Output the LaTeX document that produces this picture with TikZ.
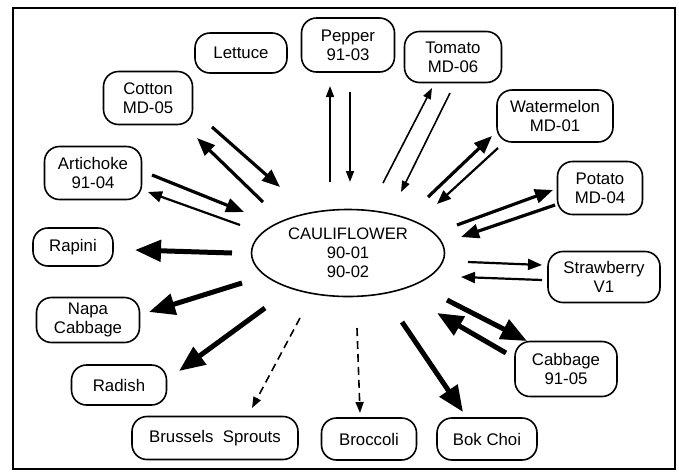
\documentclass[tikz,border=0pt]{standalone}
\usepackage{fontspec}
\setmainfont{Liberation Sans}
\usetikzlibrary{arrows.meta,shapes.geometric}
\tikzset{
  crop/.style    ={draw, rounded corners=15pt, inner sep=0pt, align=center,
                   line width=1.6pt, font=\fontsize{16.8}{19}\selectfont},
  hub/.style     ={draw, ellipse, inner sep=0pt, align=center,
                   minimum width=193pt, minimum height=87pt,
                   line width=1.6pt, font=\fontsize{16.6}{19}\selectfont},
  thinarr/.style ={-{Triangle[length=11pt, width=8pt]}, line width=1.6pt},
  lightarr/.style={-{Triangle[length=14pt, width=11pt]}, line width=2.2pt},
  medarr/.style  ={-{Triangle[length=18pt, width=14pt]}, line width=3.2pt},
  bigarr/.style  ={-{Triangle[length=26pt, width=21pt]}, line width=5pt},
  dasharr/.style ={-{Triangle[length=11pt, width=8pt]}, line width=1.6pt,
                   dash pattern=on 8pt off 5pt},
}
\begin{document}
\begin{tikzpicture}[x=1pt, y=-1pt]
  \useasboundingbox (0,0) rectangle (679,472);
  \draw[line width=1.8pt] (13,8) rectangle (675,469);
  % ---- the crops
  \node[hub] (cauli) at (348,253) {CAULIFLOWER\\90-01\\90-02};
  \node[crop, minimum width=92pt,  minimum height=40pt] (lettuce)    at (241,53)  {Lettuce};
  \node[crop, minimum width=93pt,  minimum height=54pt] (pepper)     at (348,45)  {Pepper\\91-03};
  \node[crop, minimum width=97pt,  minimum height=51pt] (tomato)     at (453,57)  {Tomato\\MD-06};
  \node[crop, minimum width=116pt, minimum height=52pt] (watermelon) at (555,116) {Watermelon\\MD-01};
  \node[crop, minimum width=85pt,  minimum height=53pt] (potato)     at (600,188) {Potato\\MD-04};
  \node[crop, minimum width=112pt, minimum height=51pt] (strawberry) at (604,277) {Strawberry\\V1};
  \node[crop, minimum width=102pt, minimum height=55pt] (cabbage)    at (566,369) {Cabbage\\91-05};
  \node[crop, minimum width=100pt, minimum height=42pt] (bokchoi)    at (487,439) {Bok Choi};
  \node[crop, minimum width=95pt,  minimum height=42pt] (broccoli)   at (369,439) {Broccoli};
  \node[crop, minimum width=166pt, minimum height=43pt] (brussels)   at (215,438) {Brussels\ \ Sprouts};
  \node[crop, minimum width=95pt,  minimum height=40pt] (radish)     at (119,385) {Radish};
  \node[crop, minimum width=103pt, minimum height=45pt] (napa)       at (88,320)  {Napa\\Cabbage};
  \node[crop, minimum width=80pt,  minimum height=38pt] (rapini)     at (73,247)  {Rapini};
  \node[crop, minimum width=97pt,  minimum height=53pt] (artichoke)  at (93,173)  {Artichoke\\91-04};
  \node[crop, minimum width=89pt,  minimum height=53pt] (cotton)     at (148,98)  {Cotton\\MD-05};
  % ---- arrow ends, free of the boxes
  \coordinate (pep-a) at (330,182); \coordinate (pep-b) at (330,86);
  \coordinate (pep-c) at (350,92);  \coordinate (pep-d) at (350,182);
  \coordinate (tom-a) at (383,183); \coordinate (tom-b) at (432,88);
  \coordinate (tom-c) at (450,93);  \coordinate (tom-d) at (401,192);
  \coordinate (wat-a) at (428,197); \coordinate (wat-b) at (492,136);
  \coordinate (wat-c) at (498,148); \coordinate (wat-d) at (437,204);
  \coordinate (pot-a) at (457,225); \coordinate (pot-b) at (553,190);
  \coordinate (pot-c) at (555,205); \coordinate (pot-d) at (461,237);
  \coordinate (str-a) at (468,262); \coordinate (str-b) at (542,265);
  \coordinate (str-c) at (542,280); \coordinate (str-d) at (461,277);
  \coordinate (cab-a) at (447,300); \coordinate (cab-b) at (527,341);
  \coordinate (cab-c) at (506,353); \coordinate (cab-d) at (437,313);
  \coordinate (bok-a) at (402,322); \coordinate (bok-b) at (463,412);
  \coordinate (bro-a) at (357,328); \coordinate (bro-b) at (360,413);
  \coordinate (bru-a) at (300,318); \coordinate (bru-b) at (252,408);
  \coordinate (rad-a) at (265,308); \coordinate (rad-b) at (179,371);
  \coordinate (nap-a) at (242,283); \coordinate (nap-b) at (149,312);
  \coordinate (rap-a) at (232,253); \coordinate (rap-b) at (135,250);
  \coordinate (art-a) at (152,175); \coordinate (art-b) at (244,212);
  \coordinate (art-c) at (240,225); \coordinate (art-d) at (148,192);
  \coordinate (cot-a) at (212,127); \coordinate (cot-b) at (280,187);
  \coordinate (cot-c) at (263,202); \coordinate (cot-d) at (197,138);
  % ---- crosses
  \draw[thinarr]  (pep-a) -- (pep-b);
  \draw[thinarr]  (pep-c) -- (pep-d);
  \draw[thinarr]  (tom-a) -- (tom-b);
  \draw[thinarr]  (tom-c) -- (tom-d);
  \draw[medarr]   (wat-a) -- (wat-b);
  \draw[lightarr] (wat-c) -- (wat-d);
  \draw[medarr]   (pot-a) -- (pot-b);
  \draw[medarr]   (pot-c) -- (pot-d);
  \draw[lightarr] (str-a) -- (str-b);
  \draw[lightarr] (str-c) -- (str-d);
  \draw[bigarr]   (cab-a) -- (cab-b);
  \draw[bigarr]   (cab-c) -- (cab-d);
  \draw[bigarr]   (bok-a) -- (bok-b);
  \draw[dasharr]  (bro-a) -- (bro-b);
  \draw[dasharr]  (bru-a) -- (bru-b);
  \draw[bigarr]   (rad-a) -- (rad-b);
  \draw[bigarr]   (nap-a) -- (nap-b);
  \draw[bigarr]   (rap-a) -- (rap-b);
  \draw[medarr]   (art-a) -- (art-b);
  \draw[lightarr] (art-c) -- (art-d);
  \draw[medarr]   (cot-a) -- (cot-b);
  \draw[medarr]   (cot-c) -- (cot-d);
\end{tikzpicture}
\end{document}
